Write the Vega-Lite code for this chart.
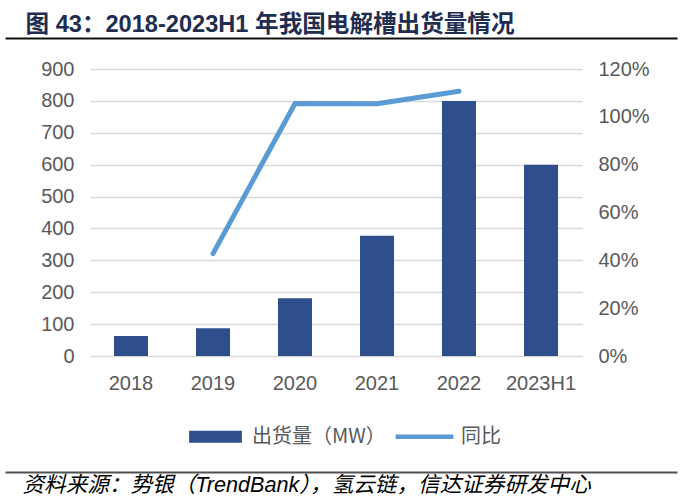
{
  "$schema": "https://vega.github.io/schema/vega-lite/v6.json",
  "autosize": {"type": "none"},
  "width": 492,
  "height": 287,
  "padding": {"left": 90, "top": 69, "right": 100, "bottom": 144},
  "background": "white",
  "config": {"view": {"stroke": null}, "font": "Liberation Sans"},
  "data": {
    "values": [
      {"year": "2018", "shipment": 63},
      {"year": "2019", "shipment": 87, "yoy": 0.428},
      {"year": "2020", "shipment": 181, "yoy": 1.056},
      {"year": "2021", "shipment": 377, "yoy": 1.055},
      {"year": "2022", "shipment": 800, "yoy": 1.107},
      {"year": "2023H1", "shipment": 600}
    ]
  },
  "layer": [
    {
      "encoding": {
        "x": {
          "field": "year",
          "type": "nominal",
          "sort": null,
          "scale": {"paddingInner": 0.585, "paddingOuter": 0.2925},
          "axis": {
            "orient": "bottom",
            "title": null,
            "labelAngle": 0,
            "labelFontSize": 20,
            "labelColor": "#595959",
            "labelPadding": 17,
            "domain": false,
            "ticks": false,
            "grid": false
          }
        }
      },
      "layer": [
        {
          "mark": {"type": "bar"},
          "encoding": {
            "y": {
              "field": "shipment",
              "type": "quantitative",
              "scale": {"domain": [0, 900]},
              "axis": {
                "orient": "left",
                "title": null,
                "values": [0, 100, 200, 300, 400, 500, 600, 700, 800, 900],
                "grid": true,
                "gridColor": "#d9d9d9",
                "gridWidth": 1.5,
                "domain": false,
                "ticks": false,
                "labelFontSize": 20,
                "labelColor": "#595959",
                "labelPadding": 16
              }
            },
            "color": {
              "datum": "出货量（MW）",
              "scale": {"domain": ["出货量（MW）", "同比"], "range": ["#2e4f8c", "#5b9bd5"]},
              "legend": {
                "orient": "none",
                "legendX": 98,
                "legendY": 340,
                "direction": "horizontal",
                "title": null,
                "labelFont": "Noto Sans CJK SC",
                "labelFontSize": 20,
                "labelColor": "#595959",
                "symbolSize": 3025,
                "labelOffset": 9,
                "columnPadding": 9,
                "encode": {
                  "symbols": {
                    "update": {
                      "shape": [
                        {"test": "datum.value === '同比'", "value": "M-1.05,-0.08H1.05V0.08H-1.05Z"},
                        {"value": "M-0.96,-0.22H0.96V0.22H-0.96Z"}
                      ],
                      "fill": [
                        {"test": "datum.value === '同比'", "value": "#5b9bd5"},
                        {"value": "#2e4f8c"}
                      ],
                      "strokeWidth": {"value": 0},
                      "opacity": {"value": 1}
                    }
                  }
                }
              }
            }
          }
        },
        {
          "mark": {"type": "line", "strokeWidth": 5, "strokeCap": "round", "strokeJoin": "round"},
          "encoding": {
            "y": {
              "field": "yoy",
              "type": "quantitative",
              "scale": {"domain": [0, 1.2]},
              "axis": {
                "orient": "right",
                "title": null,
                "values": [0, 0.2, 0.4, 0.6, 0.8, 1.0, 1.2],
                "format": ".0%",
                "grid": false,
                "domain": false,
                "ticks": false,
                "labelFontSize": 20,
                "labelColor": "#595959",
                "labelPadding": 16
              }
            },
            "color": {"datum": "同比"}
          }
        }
      ],
      "resolve": {"scale": {"y": "independent"}}
    },
    {
      "data": {"values": [{"part": "header"}]},
      "mark": {"type": "text"},
      "encoding": {
        "text": {"value": ""},
        "x": {
          "datum": 0,
          "type": "quantitative",
          "scale": {"domain": [0, 1], "range": [-85, 587]},
          "axis": {
            "orient": "top",
            "offset": 31,
            "grid": false,
            "ticks": false,
            "labels": false,
            "domain": true,
            "domainColor": "#111111",
            "domainWidth": 2,
            "title": "图 43：2018-2023H1 年我国电解槽出货量情况",
            "titleFont": "Liberation Sans, Noto Sans CJK SC",
            "titleFontSize": 23.6,
            "titleFontWeight": "bold",
            "titleColor": "#1f2d50",
            "titleAnchor": "start",
            "titleAlign": "left",
            "titleX": -65,
            "titlePadding": 2
          }
        }
      }
    },
    {
      "data": {"values": [{"part": "footer"}]},
      "mark": {"type": "text"},
      "encoding": {
        "text": {"value": ""},
        "x": {
          "datum": 0,
          "type": "quantitative",
          "scale": {"domain": [0, 1], "range": [-85, 587]},
          "axis": {
            "orient": "bottom",
            "offset": 116,
            "grid": false,
            "ticks": false,
            "labels": false,
            "domain": true,
            "domainColor": "#505050",
            "domainWidth": 2,
            "title": "资料来源：势银（TrendBank），氢云链，信达证券研发中心",
            "titleFont": "Liberation Sans, Noto Sans CJK SC",
            "titleFontSize": 21.6,
            "titleFontWeight": "normal",
            "titleFontStyle": "italic",
            "titleColor": "#000000",
            "titleAnchor": "start",
            "titleAlign": "left",
            "titleX": -68,
            "titlePadding": 2
          }
        }
      }
    }
  ],
  "resolve": {"scale": {"x": "independent", "y": "independent"}}
}
